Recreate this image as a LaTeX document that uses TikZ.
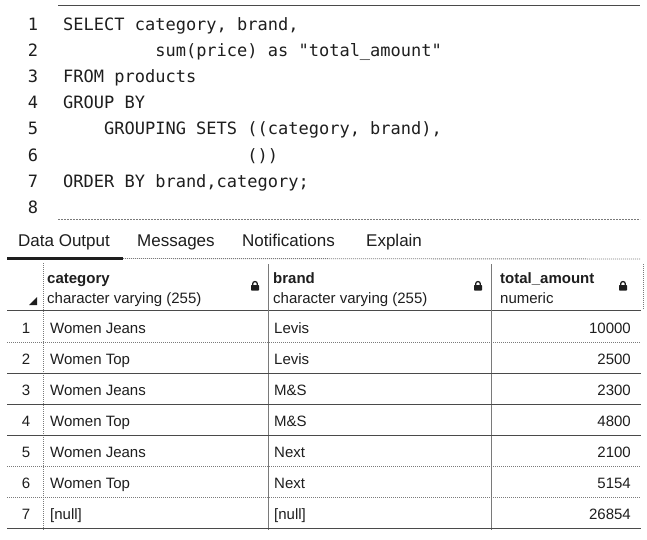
\documentclass[tikz,border=0pt]{standalone}
\usepackage{fontspec}
\setmainfont{Liberation Sans}
\newfontfamily\codefont{DejaVu Sans Mono}
\definecolor{ink}{HTML}{1E1E1E}
\definecolor{rule}{HTML}{4A4A4A}
\definecolor{softrule}{HTML}{7A7A7A}
\tikzset{
  codeline/.style={anchor=base west, inner sep=0pt, font=\codefont\fontsize{17}{20}\selectfont, text=ink},
  lineno/.style={anchor=base, inner sep=0pt, font=\codefont\fontsize{17}{20}\selectfont, text=ink},
  tabtext/.style={anchor=base west, inner sep=0pt, font=\fontsize{17}{20}\selectfont, text=ink},
  headname/.style={anchor=base west, inner sep=0pt, font=\bfseries\fontsize{15}{18}\selectfont, text=ink},
  headtype/.style={anchor=base west, inner sep=0pt, font=\fontsize{15}{18}\selectfont, text=ink},
  celltext/.style={anchor=base west, inner sep=0pt, font=\fontsize{15}{18}\selectfont, text=ink},
  cellnum/.style={anchor=base east, inner sep=0pt, font=\fontsize{15}{18}\selectfont, text=ink},
  rownum/.style={anchor=base, inner sep=0pt, font=\fontsize{15}{18}\selectfont, text=ink},
  solidrule/.style={draw=rule, line width=0.9pt},
  dotrule/.style={draw=softrule, line width=0.9pt, dash pattern=on 1pt off 1pt},
  dashrule/.style={draw=softrule, line width=0.8pt, dash pattern=on 2pt off 1pt},
}
\newcommand{\lockicon}[2]{%
  \fill[ink, rounded corners=0.6pt] (#1-4,#2-1) rectangle (#1+4,#2+4.5);
  \draw[ink, line width=1.3pt] (#1-2.3,#2-1) -- (#1-2.3,#2-2.2) arc[start angle=180, end angle=360, radius=2.3] -- (#1+2.3,#2-1);
}
\begin{document}
\begin{tikzpicture}[x=1pt,y=-1pt]
\useasboundingbox (0,0) rectangle (647,540);
\fill[white] (0,0) rectangle (647,540);

% editor
\coordinate (topL) at (58,5); \coordinate (topR) at (640,5);
\draw[solidrule] (topL) -- (topR);
\foreach \n/\yy in {1/31,2/57,3/83,4/109,5/135,6/161,7/187,8/213}{
  \node[lineno] (ln\n) at (33,\yy) {\n};
}
\node[codeline] (c1) at (63,31) {SELECT category, brand,};
\node[codeline] (c2) at (63,57) {\ \ \ \ \ \ \ \ \ sum(price) as "total\_amount"};
\node[codeline] (c3) at (63,83) {FROM products};
\node[codeline] (c4) at (63,109) {GROUP BY};
\node[codeline] (c5) at (63,135) {\ \ \ \ GROUPING SETS ((category, brand),};
\node[codeline] (c6) at (63,161) {\ \ \ \ \ \ \ \ \ \ \ \ \ \ \ \ \ \ ())};
\node[codeline] (c7) at (63,187) {ORDER BY brand,category;};
\coordinate (dashL) at (58,219); \coordinate (dashR) at (640,219);
\draw[dashrule] (dashL) -- (dashR);

% tabs
\node[tabtext] (t1) at (18,246) {Data Output};
\node[tabtext] (t2) at (137,246) {Messages};
\node[tabtext] (t3) at (242,246) {Notifications};
\node[tabtext] (t4) at (366,246) {Explain};
\coordinate (ulA) at (7,258.5); \coordinate (ulB) at (123,258.5); \coordinate (ulC) at (640,259);
\draw[draw=ink, line width=2.4pt] (ulA) -- (ulB);
\draw[dotrule] (ulB) -- (ulC);

% header
\node[headname] (h1) at (47,283) {category};
\node[headtype] (h1t) at (47,303.5) {character varying (255)};
\node[headname] (h2) at (273,283) {brand};
\node[headtype] (h2t) at (273,303.5) {character varying (255)};
\node[headname] (h3) at (500,283) {total\_amount};
\node[headtype] (h3t) at (500,303.5) {numeric};
\lockicon{255}{286}
\lockicon{478}{286}
\lockicon{623}{286}
\fill[ink] (29,305) -- (37,305) -- (37,297) -- cycle;

% table rules
\coordinate (hbL) at (7,310); \coordinate (hbR) at (641,310);
\draw[solidrule] (hbL) -- (hbR);
\draw[dotrule] (43,263) -- (43,531);
\draw[solidrule, draw=softrule] (268,264) -- (268,530);
\draw[solidrule, draw=softrule] (491,264) -- (491,530);
\draw[dotrule] (643,264) -- (643,309);
\foreach \k/\st in {1/dotrule,2/solidrule,3/solidrule,4/solidrule,5/dotrule,6/dotrule,7/solidrule}{
  \pgfmathsetmacro{\ly}{342+31*(\k-1)}
  \draw[\st] (7,\ly) -- (641,\ly);
}

% rows
\foreach \k/\cat/\br/\amt in {1/Women Jeans/Levis/10000, 2/Women Top/Levis/2500, 3/Women Jeans/M\&S/2300, 4/Women Top/M\&S/4800, 5/Women Jeans/Next/2100, 6/Women Top/Next/5154, 7/[null]/[null]/26854}{
  \pgfmathsetmacro{\by}{333+31*(\k-1)}
  \node[rownum] (r\k) at (26,\by) {\k};
  \node[celltext] (cat\k) at (50,\by) {\cat};
  \node[celltext] (br\k) at (274,\by) {\br};
  \node[cellnum] (amt\k) at (631,\by) {\amt};
}
\end{tikzpicture}
\end{document}
